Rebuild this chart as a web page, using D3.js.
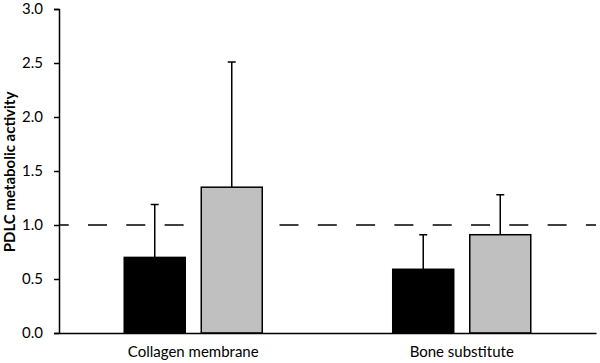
<!DOCTYPE html>
<html>
<head>
<meta charset="utf-8">
<script src="https://cdn.jsdelivr.net/npm/d3@7"></script>
<style>
  body { margin: 0; background: #fff; }
  text { font-family: Lato, "Open Sans", sans-serif; fill: #000; }
</style>
</head>
<body>
<div id="wrapper"></div>
<script>
// chart values
let groups = ["Collagen membrane", "Bone substitute"]
let series = ["a", "b"]
let means = [[0.70, 1.35], [0.59, 0.91]]
let errorTops = [[1.19, 2.51], [0.91, 1.28]]
let yTicks = [0, 0.5, 1.0, 1.5, 2.0, 2.5, 3.0]
let refValue = 1.0
let seriesColors = ["#000000", "#c0c0c0"]

function drawChart() {
    let dimensions = {
        width: 600,
        height: 363,
        margin: { top: 9, right: 4, bottom: 30, left: 59 }
    }
    let innerW = dimensions.width - dimensions.margin.left - dimensions.margin.right
    let innerH = dimensions.height - dimensions.margin.top - dimensions.margin.bottom

    let svg = d3.select("#wrapper")
        .append("svg")
        .attr("width", dimensions.width)
        .attr("height", dimensions.height)
        .append("g")
        .attr("transform", "translate(" + dimensions.margin.left + "," + dimensions.margin.top + ")")

    let y = d3.scaleLinear().domain([0, 3]).range([innerH, 0])
    let x0 = d3.scaleBand().domain(groups).range([0, innerW]).padding(0)
    let x1 = d3.scaleBand().domain(series).range([0, x0.bandwidth()])
        .paddingInner(0.208).paddingOuter(0.847)

    // reference line at 1.0
    svg.append("line")
        .attr("x1", 0).attr("x2", innerW)
        .attr("y1", y(refValue)).attr("y2", y(refValue))
        .attr("stroke", "#000")
        .attr("stroke-width", 1.5)
        .attr("stroke-dasharray", "19,19.3")
        .attr("stroke-dashoffset", 9.3)

    let rows = groups.map((g, i) => series.map((s, j) => ({
        group: g, s: s, j: j, v: means[i][j], e: errorTops[i][j]
    })))

    let gGroups = svg.selectAll(".grp")
        .data(rows)
        .enter()
        .append("g")
        .attr("transform", (d, i) => "translate(" + x0(groups[i]) + ",0)")

    // error bars (upward only)
    gGroups.selectAll(".err")
        .data(d => d)
        .enter()
        .append("path")
        .attr("d", d => {
            let cx = x1(d.s) + x1.bandwidth() / 2
            return "M" + cx + "," + y(d.v) + "V" + y(d.e) + "M" + (cx - 4) + "," + y(d.e) + "H" + (cx + 4)
        })
        .attr("stroke", "#000")
        .attr("stroke-width", 1.5)
        .attr("fill", "none")

    gGroups.selectAll("rect")
        .data(d => d)
        .enter()
        .append("rect")
        .attr("x", d => x1(d.s))
        .attr("width", x1.bandwidth())
        .attr("y", d => y(d.v))
        .attr("height", d => innerH - y(d.v))
        .attr("fill", d => seriesColors[d.j])
        .attr("stroke", "#000")
        .attr("stroke-width", 1.5)

    // y axis
    let yAxis = svg.append("g")
        .call(d3.axisLeft(y).tickValues(yTicks).tickFormat(d3.format(".1f")).tickSizeOuter(0).tickSize(5).tickPadding(11))
    yAxis.selectAll("path, line").attr("stroke", "#000").attr("stroke-width", 1.5)
    yAxis.selectAll("text").style("font-size", "15px").style("font-family", "Lato, sans-serif")

    // x axis
    let xAxis = svg.append("g")
        .attr("transform", "translate(0," + innerH + ")")
        .call(d3.axisBottom(x0).tickSize(0).tickSizeOuter(0).tickPadding(13))
    xAxis.select("path").attr("stroke", "#000").attr("stroke-width", 1.5)
    xAxis.selectAll("text").style("font-size", "15px").style("font-family", "Lato, sans-serif")

    // y title
    svg.append("text")
        .attr("transform", "translate(" + (-44) + "," + (172 - dimensions.margin.top) + ") rotate(-90)")
        .attr("text-anchor", "middle")
        .style("font-size", "15px")
        .style("font-weight", "bold")
        .text("PDLC metabolic activity")
}

drawChart()
</script>
</body>
</html>
